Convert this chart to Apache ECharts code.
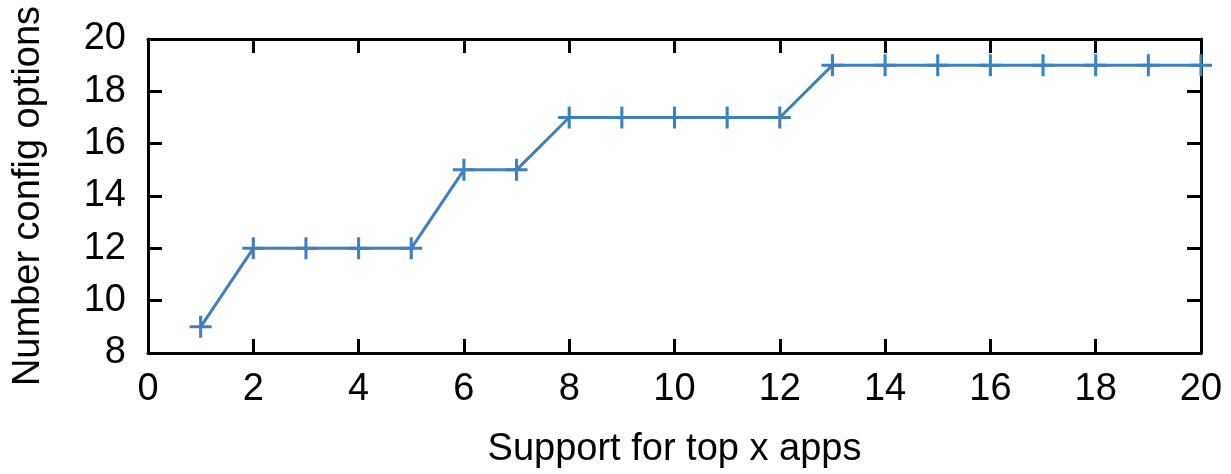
<!DOCTYPE html>
<html>
<head>
<meta charset="utf-8">
<script src="https://cdn.jsdelivr.net/npm/echarts@6/dist/echarts.min.js"></script>
<style>html,body{margin:0;padding:0;background:#fff}#c{width:1231px;height:474px}</style>
</head>
<body>
<div id="c"></div>
<script>
const xValues = [1,2,3,4,5,6,7,8,9,10,11,12,13,14,15,16,17,18,19,20];
const configOptions = [9,12,12,12,12,15,15,17,17,17,17,17,19,19,19,19,19,19,19,19];
const xTitle = 'Support for top x apps';
const yTitle = 'Number config options';

const FONT = 'Liberation Sans, Arial, sans-serif';
const lineColor = '#3f80bf';
const axisLine = {show: true, onZero: false, lineStyle: {color: '#000', width: 3}};
const tick = {show: true, inside: true, length: 14, lineStyle: {color: '#000', width: 3}};

const chart = echarts.init(document.getElementById('c'), null, {renderer: 'canvas'});
chart.setOption({
  animation: false,
  backgroundColor: '#fff',
  grid: {left: 148, right: 30, top: 39, bottom: 118},
  xAxis: [
    {type: 'value', min: 0, max: 20, interval: 2, position: 'bottom',
     axisLine: axisLine, axisTick: tick, splitLine: {show: false},
     axisLabel: {color: '#000', fontSize: 38, fontFamily: FONT, margin: 18},
     name: xTitle, nameLocation: 'middle', nameGap: 78,
     nameTextStyle: {color: '#000', fontSize: 38, fontFamily: FONT}},
    {type: 'value', min: 0, max: 20, interval: 2, position: 'top',
     axisLine: axisLine, axisTick: tick, splitLine: {show: false}, axisLabel: {show: false}}
  ],
  yAxis: [
    {type: 'value', min: 8, max: 20, interval: 2, position: 'left',
     axisLine: axisLine, axisTick: tick, splitLine: {show: false},
     axisLabel: {color: '#000', fontSize: 38, fontFamily: FONT, margin: 22},
     name: yTitle, nameLocation: 'middle', nameGap: 100,
     nameTextStyle: {color: '#000', fontSize: 38, fontFamily: FONT}},
    {type: 'value', min: 8, max: 20, interval: 2, position: 'right',
     axisLine: axisLine, axisTick: tick, splitLine: {show: false}, axisLabel: {show: false}}
  ],
  series: [{
    type: 'line',
    xAxisIndex: 0, yAxisIndex: 0,
    data: xValues.map((x, i) => [x, configOptions[i]]),
    clip: false,
    symbol: 'path://M-1.4,-10H1.4V-1.4H10V1.4H1.4V10H-1.4V1.4H-10V-1.4H-1.4Z',
    symbolSize: 22,
    showAllSymbol: true,
    lineStyle: {color: lineColor, width: 3},
    itemStyle: {color: lineColor}
  }]
});
</script>
</body>
</html>
